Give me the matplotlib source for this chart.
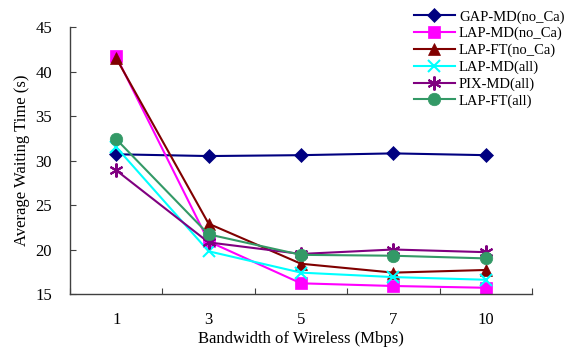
import numpy as np
import matplotlib
matplotlib.use("Agg")
import matplotlib.pyplot as plt

plt.rcParams['font.family'] = ['Liberation Serif', 'DejaVu Serif']

categories = ['1', '3', '5', '7', '10']
gap_md_noca = [30.7, 30.5, 30.6, 30.8, 30.6]
lap_md_noca = [41.7, 20.9, 16.2, 15.9, 15.7]
lap_ft_noca = [41.5, 22.9, 18.4, 17.4, 17.7]
lap_md_all = [31.5, 19.8, 17.4, 16.9, 16.6]
pix_md_all = [28.9, 20.8, 19.5, 20.0, 19.7]
lap_ft_all = [32.4, 21.7, 19.4, 19.3, 19.0]

series = [
    ('GAP-MD(no_Ca)', gap_md_noca, '#000080', 'D', 7),
    ('LAP-MD(no_Ca)', lap_md_noca, '#FF00FF', 's', 9),
    ('LAP-FT(no_Ca)', lap_ft_noca, '#800000', '^', 9),
    ('LAP-MD(all)', lap_md_all, '#00FFFF', 'x', 9),
    ('PIX-MD(all)', pix_md_all, '#800080', (6, 2, 0), 10),
    ('LAP-FT(all)', lap_ft_all, '#339966', 'o', 9),
]

fig = plt.figure(figsize=(5.65, 3.49), dpi=100)
ax = fig.add_axes([0.1239, 0.1576, 0.8177, 0.765])

x = np.arange(len(categories))
for name, vals, col, mk, ms in series:
    ax.plot(x, vals, color=col, marker=mk, markersize=ms, linewidth=1.5,
            markeredgewidth=1.5 if mk in ('x', (6, 2, 0)) else 0.5,
            markeredgecolor=col, label=name)

ax.set_xlim(-0.5, 4.5)
ax.set_ylim(15, 45)
ax.set_yticks(np.arange(15, 46, 5))
ax.set_xticks(np.arange(-0.5, 4.6, 1))
ax.set_xticklabels([])
ax.set_xticks(x, minor=True)
ax.set_xticklabels(categories, minor=True)
ax.tick_params(axis='x', which='major', direction='in', length=4, color='#404040')
ax.tick_params(axis='x', which='minor', length=0, pad=13, labelsize=12)
ax.tick_params(axis='y', direction='in', length=4, color='#404040', labelsize=12, pad=13)

for s in ['top', 'right']:
    ax.spines[s].set_visible(False)
for s in ['left', 'bottom']:
    ax.spines[s].set_color('#404040')
    ax.spines[s].set_linewidth(1.0)

ax.set_xlabel('Bandwidth of Wireless (Mbps)', fontsize=12, labelpad=2)
ax.set_ylabel('Average Waiting Time (s)', fontsize=12, labelpad=4)

fig.legend(loc='upper left', bbox_to_anchor=(0.722, 0.988), frameon=False,
           fontsize=10.5, handlelength=2.8, handletextpad=0.3, labelspacing=0.23,
           borderaxespad=0)

fig.savefig('out.png', dpi=100)
